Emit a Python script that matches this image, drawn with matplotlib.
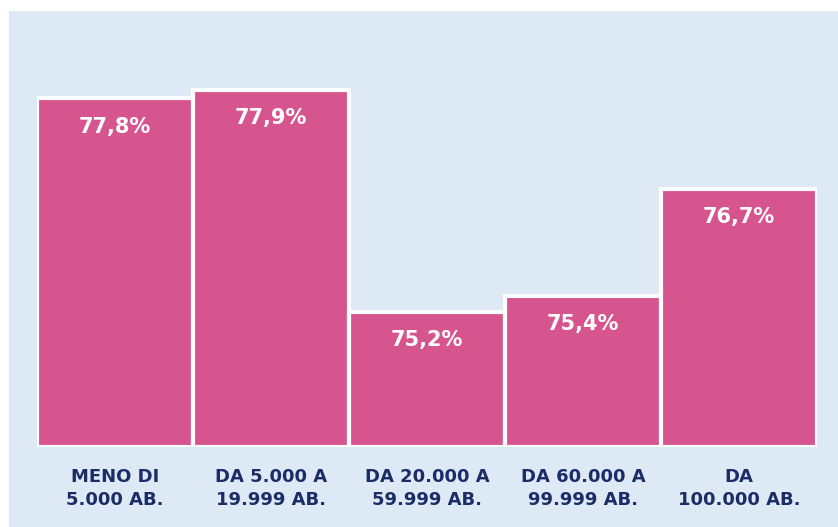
import matplotlib.pyplot as plt
import matplotlib.patches as patches
import numpy as np

# dati
categorie = ['MENO DI\n5.000 AB.', 'DA 5.000 A\n19.999 AB.', 'DA 20.000 A\n59.999 AB.',
             'DA 60.000 A\n99.999 AB.', 'DA\n100.000 AB.']
valori = [77.8, 77.9, 75.2, 75.4, 76.7]
etichette = ['77,8%', '77,9%', '75,2%', '75,4%', '76,7%']

sfondo = '#dde9f5'
rosa = '#d6558f'
blu = '#1b2c66'

W, H = 838, 527
fig = plt.figure(figsize=(W / 100, H / 100), dpi=100)
fig.patch.set_facecolor('white')

# riquadro di sfondo azzurro
fig.add_artist(patches.Rectangle((9 / W, 0), 1 - 9 / W, (H - 11) / H,
                                 transform=fig.transFigure, facecolor=sfondo,
                                 edgecolor='none', zorder=-10))

ax = fig.add_axes([37 / W, (H - 447) / H, 780 / W, 436 / H])
ax.set_facecolor('none')
ax.set_zorder(1)

x = np.arange(len(valori))
y0 = 73.56
ax.bar(x, np.array(valori) - y0, bottom=y0, width=1.0, color=rosa,
       edgecolor='white', linewidth=3)

for xi, v, t in zip(x, valori, etichette):
    ax.annotate(t, (xi, v), xytext=(0, -13), textcoords='offset points',
                ha='center', va='top', color='white', fontsize=15, fontweight='bold')

ax.set_xlim(-0.5, len(valori) - 0.5)
ax.set_ylim(y0, y0 + 436 / 82.2)
ax.set_xticks(x)
ax.set_xticklabels(categorie, color=blu, fontsize=13, fontweight='bold', linespacing=1.35)
ax.tick_params(axis='x', length=0, pad=15)
ax.set_yticks([])
for s in ax.spines.values():
    s.set_visible(False)

plt.savefig('out.png', dpi=100)
